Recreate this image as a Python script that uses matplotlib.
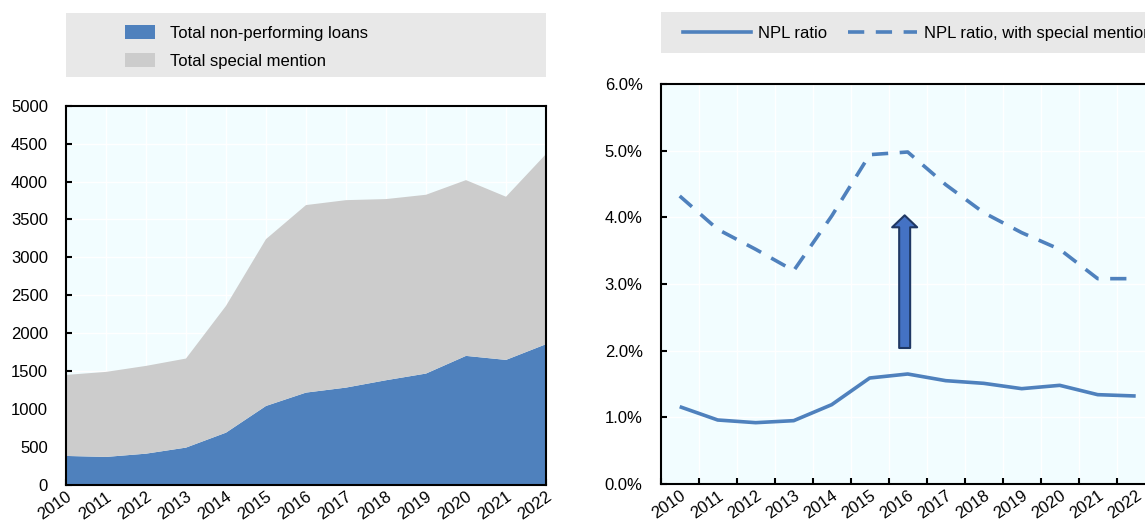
import matplotlib
matplotlib.use("Agg")
import matplotlib.pyplot as plt
import numpy as np
from matplotlib.patches import Rectangle
from matplotlib.lines import Line2D
from matplotlib.ticker import FuncFormatter, MultipleLocator

# ---- data ----
years = [2010, 2011, 2012, 2013, 2014, 2015, 2016, 2017, 2018, 2019, 2020, 2021, 2022]
npl = [383, 370, 413, 493, 690, 1042, 1218, 1284, 1381, 1469, 1702, 1649, 1856]
special_mention = [1068, 1121, 1157, 1174, 1671, 2199, 2472, 2471, 2388, 2357, 2317, 2151, 2506]
npl_ratio = [1.16, 0.96, 0.92, 0.95, 1.19, 1.59, 1.65, 1.55, 1.51, 1.43, 1.48, 1.34, 1.32]
npl_ratio_sm = [4.32, 3.82, 3.52, 3.20, 4.02, 4.94, 4.98, 4.49, 4.07, 3.77, 3.52, 3.08, 3.08]
left_labels = ["Total non-performing loans", "Total special mention"]
right_labels = ["NPL ratio", "NPL ratio, with special mention"]
year_labels = [str(y) for y in years]

FONT = ["Liberation Sans", "DejaVu Sans"]
plt.rcParams["font.family"] = FONT
FS = 12

BLUE = "#4F81BD"
GREY = "#CCCCCC"
BG = "#F2FDFF"
LEG_BG = "#E8E8E8"

W, H = 1145, 522
fig = plt.figure(figsize=(W / 100, H / 100), dpi=100)

def fx(px):
    return px / W

def fy(py):
    return 1 - py / H

# ---- left panel ----
axL = fig.add_axes([fx(66), fy(485), fx(546) - fx(66), fy(105.7) - fy(485)])
axL.set_facecolor(BG)
axL.stackplot(years, npl, special_mention, colors=[BLUE, GREY], zorder=2)
axL.set_xlim(years[0], years[-1])
axL.set_ylim(0, 5000)
axL.yaxis.set_major_locator(MultipleLocator(500))
axL.set_xticks(years)
axL.set_xticklabels(year_labels, rotation=35, ha="right", va="top", rotation_mode="anchor")
axL.grid(True, color="white", lw=1.0, zorder=0)
axL.set_axisbelow(True)

# ---- right panel ----
axR = fig.add_axes([fx(660.7), fy(484), 13 * 38 / W, fy(84) - fy(484)])
axR.set_facecolor(BG)
xs = np.arange(len(years))
axR.plot(xs, npl_ratio, color=BLUE, lw=2.6, solid_capstyle="butt", zorder=3)
axR.plot(xs, npl_ratio_sm, color=BLUE, lw=2.6, ls=(0, (4.5, 3.2)), zorder=3)
axR.set_xlim(-0.5, len(years) - 0.5)
axR.set_ylim(0, 6)
axR.yaxis.set_major_locator(MultipleLocator(1))
axR.yaxis.set_major_formatter(FuncFormatter(lambda v, p: f"{v:.1f}%"))
axR.set_xticks(xs)
axR.set_xticklabels(year_labels, rotation=35, ha="right", va="top", rotation_mode="anchor")
axR.set_xticks(np.arange(-0.5, len(years) + 0.5, 1), minor=True)
axR.tick_params(axis="x", which="major", length=0)
axR.grid(True, axis="y", color="white", lw=1.0, zorder=0)
axR.grid(True, axis="x", which="minor", color="white", lw=1.0, zorder=0)
axR.set_axisbelow(True)

axR.annotate("", xy=(5.92, 4.03), xytext=(5.92, 2.04),
             arrowprops=dict(arrowstyle="simple,head_length=0.86,head_width=1.8,tail_width=0.79",
                             mutation_scale=10, fc="#4472C4", ec="#1F3864", lw=1.5,
                             shrinkA=0, shrinkB=0), zorder=4)

for ax in (axL, axR):
    for s in ax.spines.values():
        s.set_color("black")
        s.set_linewidth(1.5)
    ax.tick_params(axis="both", which="both", direction="in", labelsize=FS, width=1.5,
                   colors="black")
    ax.tick_params(axis="y", length=4.3, pad=13)
    ax.tick_params(axis="x", which="major", pad=3)
axL.tick_params(axis="x", length=4.3)
axR.tick_params(axis="x", which="minor", length=4.3)

# ---- legends ----
fig.patches.append(Rectangle((fx(66), fy(77)), fx(546) - fx(66), fy(13) - fy(77),
                             transform=fig.transFigure, facecolor=LEG_BG, edgecolor="none", zorder=0))
fig.patches.append(Rectangle((fx(661), fy(53)), fx(1200) - fx(661), fy(12) - fy(53),
                             transform=fig.transFigure, facecolor=LEG_BG, edgecolor="none", zorder=0))

hL = [Rectangle((0, 0), 1, 1, facecolor=BLUE, edgecolor="none"),
      Rectangle((0, 0), 1, 1, facecolor=GREY, edgecolor="none")]
fig.legend(hL, left_labels, loc="upper left", bbox_to_anchor=(fx(125), fy(25)),
           frameon=False, fontsize=FS, handlelength=1.8, handleheight=0.95,
           handletextpad=0.9, labelspacing=0.72, borderpad=0, borderaxespad=0)

hR = [Line2D([], [], color=BLUE, lw=2.6),
      Line2D([], [], color=BLUE, lw=2.6, ls=(0, (4.5, 3.2)))]
fig.legend(hR, right_labels, loc="upper left", bbox_to_anchor=(fx(683), fy(26)),
           ncol=2, frameon=False, fontsize=FS, handlelength=4.1,
           handletextpad=0.42, columnspacing=1.25, borderpad=0, borderaxespad=0)

fig.savefig("out.png", dpi=100)
